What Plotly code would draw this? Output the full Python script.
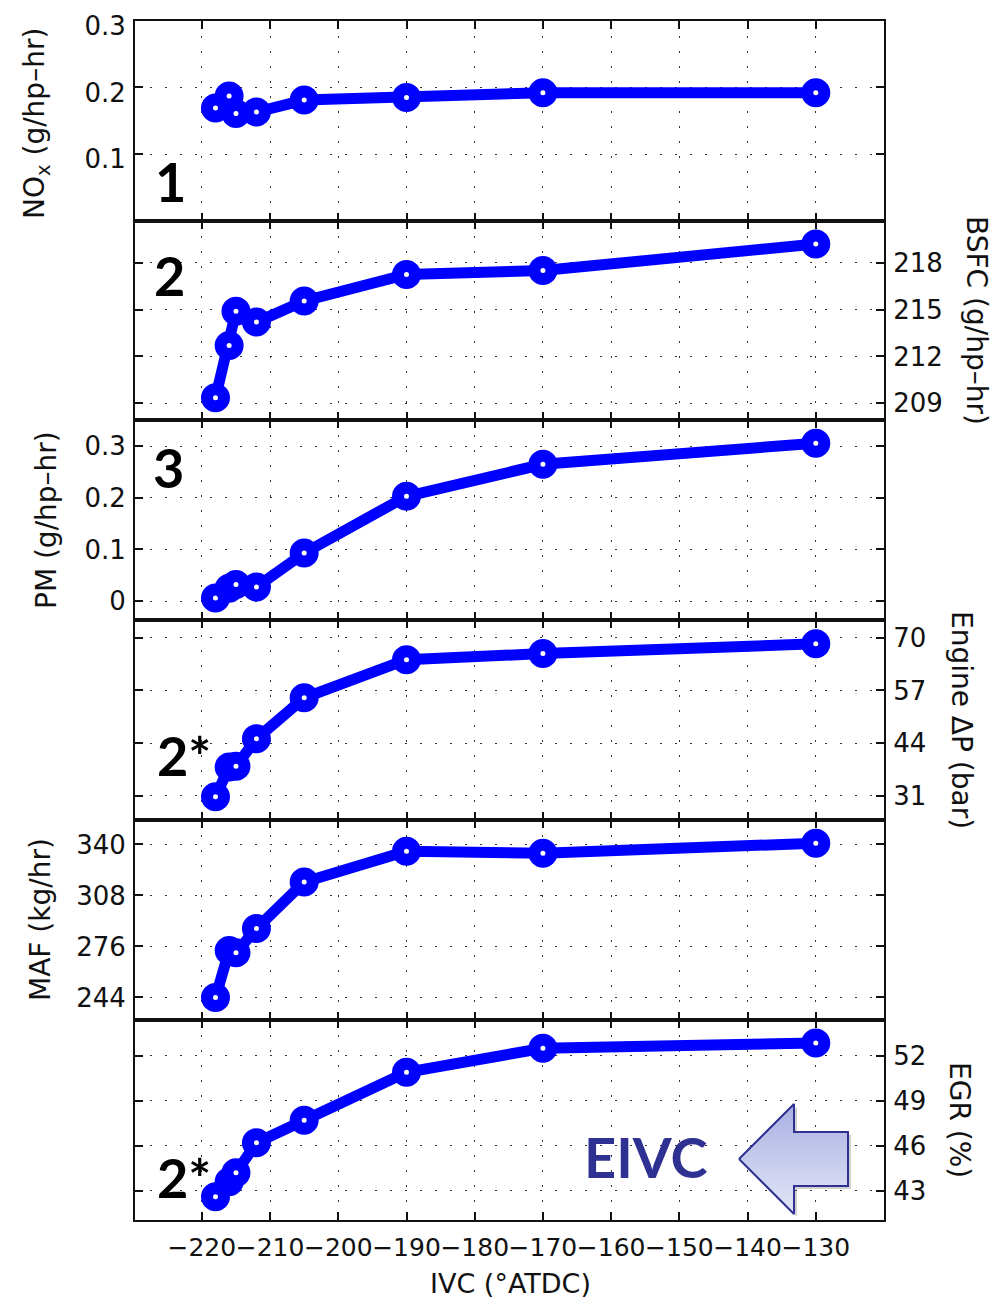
import plotly.graph_objects as go

# ---------------- data ----------------
ivc = [-218, -216, -215, -212, -205, -190, -170, -130]
nox = [0.169, 0.187, 0.161, 0.163, 0.181, 0.185, 0.192, 0.192]
bsfc = [209.35, 212.7, 214.9, 214.2, 215.55, 217.25, 217.5, 219.2]
pm = [0.006, 0.025, 0.032, 0.027, 0.093, 0.203, 0.265, 0.306]
dp = [30.8, 38.1, 38.3, 45.1, 55.2, 64.6, 66.1, 68.5]
maf = [244, 273.5, 272, 287.3, 316.4, 335.8, 334.5, 340.8]
egr = [42.6, 43.6, 44.2, 46.2, 47.7, 50.9, 52.5, 52.85]

x_ticks = [-220, -210, -200, -190, -180, -170, -160, -150, -140, -130]
nox_ticks = [0.1, 0.2, 0.3]
bsfc_ticks = [209, 212, 215, 218]
pm_ticks = [0, 0.1, 0.2, 0.3]
dp_ticks = [31, 44, 57, 70]
maf_ticks = [244, 276, 308, 340]
egr_ticks = [43, 46, 49, 52]

series = [nox, bsfc, pm, dp, maf, egr]
ticks = [nox_ticks, bsfc_ticks, pm_ticks, dp_ticks, maf_ticks, egr_ticks]
ranges = [[0, 0.3002], [207.9, 220.7], [-0.0374, 0.350], [25.0, 74.3], [229.8, 355.2], [41.05, 54.38]]
sides = ["left", "right", "left", "right", "left", "right"]
titles = ["NO<sub>x</sub> (g/hp–hr)", "BSFC (g/hp–hr)", "PM (g/hp–hr)",
          "Engine ΔP (bar)", "MAF (kg/hr)", "EGR (%)"]
panel_labels = ["1", "2", "3", "2*", "", "2*"]

# ---------------- layout helpers ----------------
W, H = 1000, 1303
OX, OY = 8, 8          # page body margin offset
def px(x):
    return (x - OX) / W
def py(y):
    return 1 - (y - OY) / H

LEFT, RIGHT = 135, 884
edges = [20.7 + i * 199.88 for i in range(7)]
FONT = "DejaVu Sans"
BLUE = "#0000ff"

fig = go.Figure()
layout = dict(
    width=W, height=H, margin=dict(l=0, r=0, t=0, b=0, pad=0),
    paper_bgcolor="white", plot_bgcolor="rgba(0,0,0,0)", showlegend=False,
    font=dict(family=FONT, color="#111111"),
)

common = dict(
    ticks="inside", ticklen=8, tickwidth=1.5, tickcolor="#111",
    showline=True, linecolor="#111", linewidth=2, mirror="ticks",
    showgrid=True, gridcolor="#333", gridwidth=1.3, griddash="2px,13px",
    zeroline=False, automargin=False, tickangle=0,
)

annotations = []
for i in range(6):
    n = i + 1
    xa = "x" if n == 1 else f"x{n}"
    ya = "y" if n == 1 else f"y{n}"
    fig.add_trace(go.Scatter(
        x=ivc, y=series[i], xaxis=xa, yaxis=ya, mode="lines+markers",
        line=dict(color=BLUE, width=11),
        marker=dict(symbol="circle", size=17, color="white",
                    line=dict(color=BLUE, width=12)),
        cliponaxis=False,
    ))
    top, bot = edges[i], edges[i + 1]
    xaxis = dict(
        domain=[px(LEFT), px(RIGHT)], range=[-229.8, -120],
        tickvals=x_ticks, showticklabels=(i == 5), anchor=ya,
        tickfont=dict(size=25, family=FONT, color="#111"),
        ticklabelstandoff=4, **common,
    )
    if n > 1:
        xaxis["matches"] = "x"
    yaxis = dict(
        domain=[py(bot), py(top)], range=ranges[i], tickvals=ticks[i],
        side=sides[i], anchor=xa,
        tickfont=dict(size=26, family=FONT, color="#111"),
        ticklabelstandoff=2, **common,
    )
    if n == 1:
        yaxis["ticklabelshift"] = 5
    layout["xaxis" if n == 1 else f"xaxis{n}"] = xaxis
    layout["yaxis" if n == 1 else f"yaxis{n}"] = yaxis

# axis titles as annotations
title_pos = [(36, 124), (976, 320), (47, 520), (962, 720), (40, 920), (960, 1120)]
for i, t in enumerate(titles):
    x, y = title_pos[i]
    annotations.append(dict(
        text=t, x=px(x), y=py(y), xref="paper", yref="paper",
        xanchor="center", yanchor="middle", showarrow=False,
        textangle=-90 if sides[i] == "left" else 90,
        font=dict(size=28, family=FONT, color="#111"),
    ))

annotations.append(dict(
    text="IVC (°ATDC)", x=px(510), y=py(1283), xref="paper", yref="paper",
    xanchor="center", yanchor="middle", showarrow=False,
    font=dict(size=27, family=FONT, color="#111"),
))

# panel number labels
label_pos = [(170, 181), (169, 275), (168, 468), (184, 755), (0, 0), (184, 1177)]
for lab, (x, y) in zip(panel_labels, label_pos):
    if not lab:
        continue
    annotations.append(dict(
        text=f"<b>{lab}</b>", x=px(x), y=py(y), xref="paper", yref="paper",
        xanchor="center", yanchor="middle", showarrow=False,
        font=dict(size=54, family="Lato", color="black"),
    ))

# EIVC text
annotations.append(dict(
    text="<b>EIVC</b>", x=px(645), y=py(1156), xref="paper", yref="paper",
    xanchor="center", yanchor="middle", showarrow=False,
    font=dict(size=56, family="Lato", color="#2e3192"),
))

# arrow (decoration) on a page-pixel-space axis pair
arrow_x = [739, 794, 794, 848, 848, 794, 794, 739]
arrow_y = [1159, 1104, 1132, 1132, 1186, 1186, 1214, 1159]
fig.add_trace(go.Scatter(
    x=[v + 3 for v in arrow_x], y=[v + 3 for v in arrow_y], xaxis="x7", yaxis="y7",
    mode="lines", fill="toself", fillcolor="rgba(120,120,120,0.35)",
    line=dict(width=0), hoverinfo="skip",
))
fig.add_trace(go.Scatter(
    x=arrow_x, y=arrow_y, xaxis="x7", yaxis="y7", mode="lines", fill="toself",
    fillgradient=dict(type="vertical", start=1104, stop=1214,
                      colorscale=[[0, "#a9b0e2"], [1, "#e3e6f7"]]),
    line=dict(color="#2e3192", width=2), hoverinfo="skip",
))
layout["xaxis7"] = dict(domain=[0, 1], range=[OX, OX + W], visible=False,
                        anchor="y7", fixedrange=True, automargin=False)
layout["yaxis7"] = dict(domain=[0, 1], range=[OY + H, OY], visible=False,
                        anchor="x7", fixedrange=True, automargin=False)

layout["annotations"] = annotations
fig.update_layout(**layout)
fig.write_html("out.html")
